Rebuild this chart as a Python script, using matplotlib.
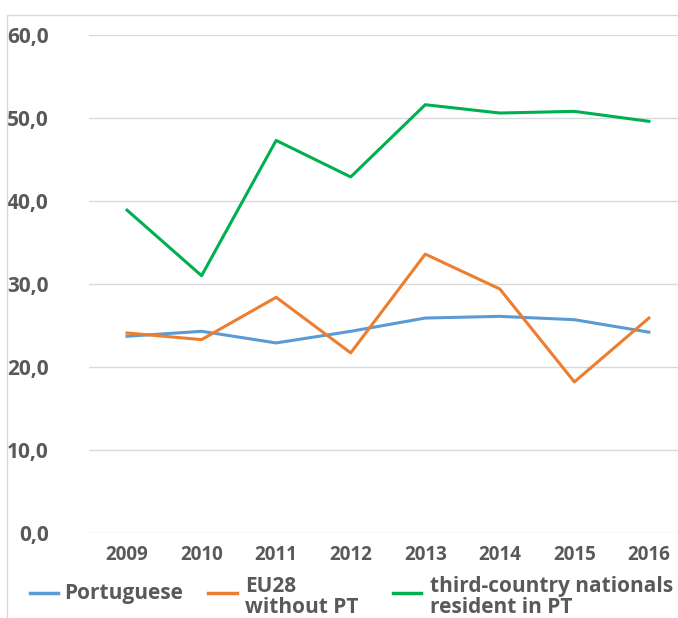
import numpy as np
import matplotlib.pyplot as plt
from matplotlib.patches import Rectangle
from matplotlib.lines import Line2D

years = ['2009', '2010', '2011', '2012', '2013', '2014', '2015', '2016']
portuguese = [23.7, 24.3, 22.9, 24.3, 25.9, 26.1, 25.7, 24.2]
eu28 = [24.1, 23.3, 28.4, 21.7, 33.6, 29.4, 18.2, 25.9]
third = [38.9, 31.0, 47.3, 42.9, 51.6, 50.6, 50.8, 49.6]
yticks = [0, 10, 20, 30, 40, 50, 60]
series_names = ['Portuguese', 'EU28\nwithout PT', 'third-country nationals\nresident in PT']
colors = ['#5b9bd5', '#ed7d31', '#00b050']

plt.rcParams['font.family'] = ['Open Sans', 'DejaVu Sans']
grey = '#595959'

W, H = 678, 618
fig = plt.figure(figsize=(W / 100, H / 100), dpi=100)
ax = fig.add_axes([89 / W, 1 - 533 / H, 1 - 89 / W, (533 - 35) / H])

fig.patches.append(Rectangle((7 / W, -0.1), 1.2, 1 - 15 / H + 0.1, transform=fig.transFigure,
                             fill=False, edgecolor='#d9d9d9', linewidth=1.0, zorder=0))

x = np.arange(len(years))
for vals, c in zip([portuguese, eu28, third], colors):
    ax.plot(x, vals, color=c, lw=2.2)

ax.set_xlim(-0.51, 7.39)
ax.set_ylim(0, 60)
ax.set_xticks(x)
ax.set_xticklabels(years, fontsize=13.5, fontweight='bold', color=grey)
ax.set_yticks(yticks)
ax.set_yticklabels([f'{v:.1f}'.replace('.', ',') for v in yticks],
                   fontsize=15, fontweight='bold', color=grey)
ax.tick_params(length=0)
ax.tick_params(axis='x', pad=9)
ax.tick_params(axis='y', pad=29)
ax.grid(axis='y', color='#d9d9d9', lw=1)
ax.set_axisbelow(True)
for s in ax.spines.values():
    s.set_visible(False)

# legend, laid out by hand like the Excel one
handle_x = [(30, 58), (208, 237), (393, 421)]
text_x = [64, 245, 430]
text_y = [593, 597, 597]
for name, c, (x0, x1), tx, ty in zip(series_names, colors, handle_x, text_x, text_y):
    fig.add_artist(Line2D([x0 / W, x1 / W], [1 - 593 / H] * 2, color=c, lw=2.5,
                          transform=fig.transFigure))
    fig.text(tx / W, 1 - ty / H, name, ha='left', va='center', fontsize=15,
             fontweight='bold', color=grey, linespacing=1.0)

fig.savefig('out.png', dpi=100)
